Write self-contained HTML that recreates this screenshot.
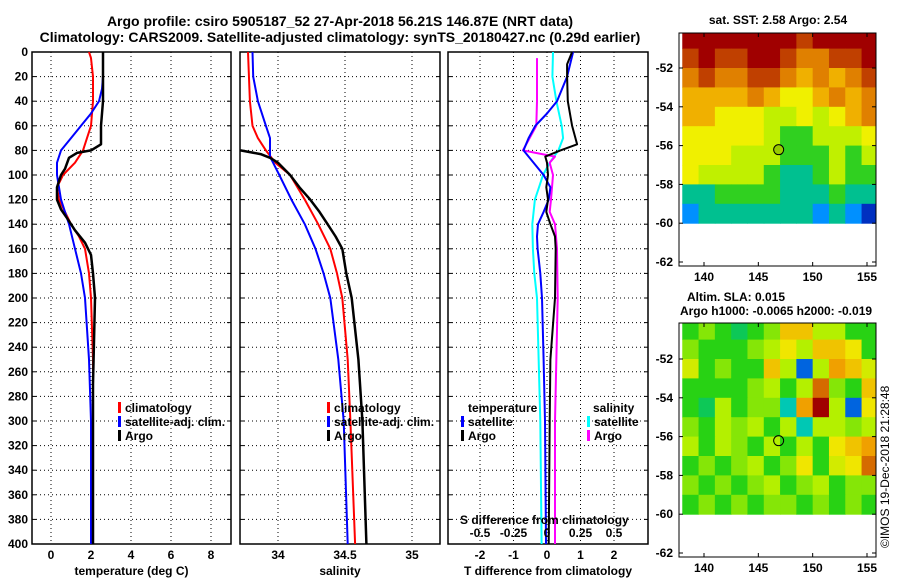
<!DOCTYPE html>
<html><head><meta charset="utf-8">
<style>
body{margin:0;background:#fff;}
svg{display:block;font-family:"Liberation Sans",Arial,sans-serif;font-weight:bold;}
</style></head>
<body>
<svg id="chart" width="900" height="580" viewBox="0 0 900 580" xmlns="http://www.w3.org/2000/svg">
<text x="340" y="26" font-size="14" text-anchor="middle">Argo profile: csiro 5905187_52 27-Apr-2018 56.21S 146.87E (NRT data)</text>
<text x="340" y="42" font-size="14" text-anchor="middle">Climatology: CARS2009. Satellite-adjusted climatology: synTS_20180427.nc (0.29d earlier)</text>
<text x="778" y="24" font-size="12" text-anchor="middle">sat. SST: 2.58 Argo: 2.54</text>
<text x="736" y="301" font-size="12" text-anchor="middle">Altim. SLA: 0.015</text>
<text x="776" y="315" font-size="12" text-anchor="middle">Argo h1000: -0.0065 h2000: -0.019</text>
<text transform="translate(889,548) rotate(-90)" font-size="12" font-weight="normal">©IMOS 19-Dec-2018 21:28:48</text>
<g id="g"></g>
</svg>
<script>
// ---- data ----
const depthTicks=[0,20,40,60,80,100,120,140,160,180,200,220,240,260,280,300,320,340,360,380,400];
const tempTicks=[0,2,4,6,8];
const salTicks=[34,34.5,35];
const salTickLabels=["34","34.5","35"];
const tdiffTicks=[-2,-1,0,1,2];
const sdiffTicks=[-0.5,-0.25,0,0.25,0.5];
const sdiffTickLabels=["-0.5","-0.25","0","0.25","0.5"];

const climTDepth=[0,5,20,40,60,70,80,90,100,110,120,130,140,150,160,180,200,250,300,400];
const climT=[1.9,2.0,2.1,2.1,2.0,1.8,1.6,1.2,0.6,0.3,0.4,0.7,1.0,1.4,1.7,1.9,2.0,2.1,2.1,2.1];
const satTDepth=[0,20,30,40,50,60,70,80,90,100,110,120,130,140,160,180,200,250,300,400];
const satT=[2.6,2.6,2.55,2.4,2.0,1.5,1.0,0.5,0.3,0.3,0.4,0.5,0.7,0.9,1.2,1.5,1.7,1.9,2.0,2.0];
const argoTDepth=[0,20,40,60,75,80,82,86,95,100,110,120,128,135,145,155,165,180,200,270,400];
const argoT=[2.6,2.6,2.6,2.5,2.5,2.0,1.3,0.9,0.7,0.5,0.3,0.3,0.5,0.8,1.2,1.7,2.0,2.1,2.2,2.1,2.1];

const climSDepth=[0,40,60,70,80,90,100,120,140,160,180,200,250,300,400];
const climS=[33.776,33.79,33.81,33.85,33.91,33.98,34.09,34.2,34.3,34.39,34.44,34.48,34.52,34.54,34.575];
const satSDepth=[0,20,40,60,70,85,100,120,140,160,180,200,250,300,400];
const satS=[33.81,33.815,33.85,33.91,33.94,33.94,34.01,34.1,34.2,34.28,34.34,34.39,34.45,34.49,34.52];
const argoSDepth=[80,83,86,90,100,110,120,130,140,150,160,180,200,250,300,400];
const argoS=[33.72,33.87,33.94,34.0,34.09,34.16,34.24,34.31,34.37,34.43,34.48,34.51,34.55,34.6,34.63,34.66];

const satTdDepth=[0,20,40,50,60,70,80,90,100,110,120,130,140,150,160,180,200,250,300,400];
const satTd=[0.78,0.6,0.3,0,-0.35,-0.55,-0.7,-0.4,-0.1,0.1,0.05,-0.1,-0.27,-0.3,-0.28,-0.2,-0.15,-0.1,-0.06,-0.03];
const argoTdDepth=[0,10,20,40,60,75,80,85,90,100,110,120,130,140,150,160,200,250,300,400];
const argoTd=[0.75,0.6,0.6,0.62,0.75,0.9,0.4,-0.05,0.0,0.03,-0.02,0.03,-0.02,0.1,0.24,0.26,0.24,0.1,0.08,0.05];
const satSdDepth=[0,20,40,60,70,80,90,100,110,120,140,160,180,200,300,400];
const satSd=[0.045,0.04,0.07,0.11,0.12,0.085,0.02,-0.03,-0.06,-0.09,-0.11,-0.105,-0.095,-0.075,-0.05,-0.04];
const argoSdDepth=[5,40,60,70,80,85,90,100,120,130,140,160,200,300,400];
const argoSd=[-0.075,-0.075,-0.08,-0.13,-0.18,0.06,0.02,0.045,0.03,0.02,0.06,0.075,0.08,0.06,0.06];

const mapLonTicks=[140,145,150,155];
const mapLatTicks=[-52,-54,-56,-58,-60,-62];
const gridLons=[138,139.5,141,142.5,144,145.5,147,148.5,150,151.5,153,154.5,156];
const gridLats=[-50,-51,-52,-53,-54,-55,-56,-57,-58,-59,-60];
const sstRows=[
[5.5,5.5,5.5,5.5,5.5,5.5,5.5,5.0,5.5,5.5,5.5,5.5],
[5.0,5.5,5.0,5.0,5.5,5.5,5.0,4.5,4.5,5.0,5.0,5.5],
[4.5,5.0,4.5,4.5,5.0,5.0,4.5,4.0,4.5,4.0,4.5,5.0],
[4.0,4.0,4.0,4.0,4.5,4.0,3.5,3.5,4.0,4.5,4.0,4.5],
[4.0,4.0,3.5,3.5,3.5,3.0,3.0,3.5,3.0,3.5,4.0,4.5],
[3.5,3.5,3.5,3.5,3.5,3.0,2.5,2.5,3.0,3.0,3.0,3.5],
[3.5,3.5,3.5,3.0,3.0,3.0,2.5,2.5,2.5,3.0,2.5,3.0],
[3.5,3.0,3.0,3.0,3.0,2.5,2.0,2.0,2.5,3.0,2.5,2.5],
[2.0,2.0,2.5,2.5,2.5,2.5,2.0,2.0,2.0,2.5,2.0,2.0],
[1.5,2.0,2.0,2.0,2.0,2.0,2.0,2.0,1.5,2.0,1.5,1.0]];
const slaRows=[
[0,0.2,0,-0.2,0,0.2,0.6,0.6,0.3,0.3,0,0],
[0.2,0,0,0,0.2,0.3,0.5,0.3,0.6,0.6,0.5,0],
[0.4,0,0.2,0,0,0.6,0.3,-0.8,0.3,0.7,0.6,0.4],
[0,0,0,0,0.2,0.3,0,0.3,0.8,0.2,0,0.6],
[0,-0.2,0.3,0,0.2,0.2,-0.4,0.7,1.0,0.3,-0.8,0.5],
[0.2,0,0.3,0.2,0.3,0,0.3,-0.4,0.3,0.3,0.2,0.3],
[0.3,0,0.3,0.2,0,0.3,0,0.3,0,0.5,0.6,0.7],
[0,0.2,0,0.2,0.3,0,0.2,0.5,0,0.4,0.5,0.8],
[0.2,0,0.2,0,0.2,0.3,0,0.2,0.3,0,0.2,0.2],
[0,0.2,0,0.2,0,0.2,0.2,0,0.2,0,0.2,0]];
const argoLon=146.87, argoLat=-56.21;

// ---- helpers ----
const NS="http://www.w3.org/2000/svg";
const G=document.getElementById('g');
function el(t,a,p){const e=document.createElementNS(NS,t);for(const k in a)e.setAttribute(k,a[k]);(p||G).appendChild(e);return e;}
function lin(d0,d1,r0,r1){return v=>r0+(v-d0)*(r1-r0)/(d1-d0);}
const yD=lin(0,400,52,544);
const PT={x0:32,x1:231}, PS={x0:240,x1:440}, PD={x0:448,x1:648};
const xT=lin(0,2,51,91), xS=lin(34,34.5,278,345), xTd=lin(0,1,547,580.5), xSd=lin(0,0.25,547,580.5);

function panelFrame(P,name,xticks,xf,labels,xlabel,showDepth){
  const grp=el('g',{});
  
  
  depthTicks.forEach(d=>{
    if(d>0&&d<400){const l=el('line',{x1:P.x0,x2:P.x1,y1:yD(d),y2:yD(d),stroke:'#000','stroke-width':1,'stroke-dasharray':'1,3'},grp);
    }
    if(showDepth){const t=el('text',{x:P.x0-4,y:yD(d)+4,'font-size':12,'text-anchor':'end'},grp);t.textContent=d;
    }
    el('line',{x1:P.x0,x2:P.x0+4,y1:yD(d),y2:yD(d),stroke:'#000'},grp);
    el('line',{x1:P.x1,x2:P.x1-4,y1:yD(d),y2:yD(d),stroke:'#000'},grp);
  });
  xticks.forEach((v,i)=>{
    const x=xf(v);
    const l=el('line',{x1:x,x2:x,y1:52,y2:544,stroke:'#000','stroke-dasharray':'1,3'},grp);
    
    const t=el('text',{x:x,y:559,'font-size':12,'text-anchor':'middle'},grp);
    t.textContent=labels?labels[i]:v;
    
  });
  const r=el('rect',{x:P.x0,y:52,width:P.x1-P.x0,height:492,fill:'none',stroke:'#000','stroke-width':1.5},grp);
  
  const xl=el('text',{x:(P.x0+P.x1)/2,y:575,'font-size':12,'text-anchor':'middle'},grp);
  xl.textContent=xlabel;
  
}
function line(xs,ds,xf,color,w,name){
  const pts=xs.map((v,i)=>xf(v).toFixed(1)+','+yD(ds[i]).toFixed(1)).join(' ');
  const p=el('polyline',{points:pts,fill:'none',stroke:color,'stroke-width':w,'stroke-linejoin':'round'});
  
  
}
function txt(x,y,s,name,anchor){const t=el('text',{x:x,y:y,'font-size':12,'text-anchor':anchor||'start'});t.textContent=s;
  
  return t;}
function legMark(x,y,c){const r=el('rect',{x:x,y:y-10,width:3,height:11,fill:c});
  
  }

// temperature panel
panelFrame(PT,'temperature-panel',tempTicks,xT,null,'temperature (deg C)',true);
line(climT,climTDepth,xT,'#f00',2,'climatology-temperature-line');
line(satT,satTDepth,xT,'#00f',2,'satellite-temperature-line');
line(argoT,argoTDepth,xT,'#000',2.5,'argo-temperature-line');
legMark(118,412,'#f00');txt(125,412,'climatology','legend-climatology');
legMark(118,426,'#00f');txt(125,426,'satellite-adj. clim.','legend-satellite');
legMark(118,440,'#000');txt(125,440,'Argo','legend-argo');

// salinity panel
panelFrame(PS,'salinity-panel',salTicks,xS,salTickLabels,'salinity',false);
line(climS,climSDepth,xS,'#f00',2,'climatology-salinity-line');
line(satS,satSDepth,xS,'#00f',2,'satellite-salinity-line');
line(argoS,argoSDepth,xS,'#000',2.5,'argo-salinity-line');
legMark(327,412,'#f00');txt(334,412,'climatology','legend-climatology');
legMark(327,426,'#00f');txt(334,426,'satellite-adj. clim.','legend-satellite');
legMark(327,440,'#000');txt(334,440,'Argo','legend-argo');

// difference panel
panelFrame(PD,'difference-panel',tdiffTicks,xTd,null,'T difference from climatology',false);
line(satSd,satSdDepth,xSd,'#0ff',2,'satellite-salinity-diff-line');
line(argoSd,argoSdDepth,xSd,'#f0f',2,'argo-salinity-diff-line');
line(satTd,satTdDepth,xTd,'#00f',2,'satellite-temperature-diff-line');
line(argoTd,argoTdDepth,xTd,'#000',2,'argo-temperature-diff-line');
txt(468,412,'temperature','legend-temperature-heading');
legMark(461,426,'#00f');txt(468,426,'satellite','legend-t-satellite');
legMark(461,440,'#000');txt(468,440,'Argo','legend-t-argo');
txt(593,412,'salinity','legend-salinity-heading');
legMark(587,426,'#0ff');txt(594,426,'satellite','legend-s-satellite');
legMark(587,440,'#f0f');txt(594,440,'Argo','legend-s-argo');
txt(460,524,'S difference from climatology','s-axis-title');
sdiffTicks.forEach((v,i)=>{txt(xSd(v),537,sdiffTickLabels[i],'s-tick-label','middle');});

// maps
const xLon=lin(140,155,704,867);
function sstColor(v){
  const stops=[[1.0,[0,48,192]],[1.5,[0,144,255]],[2.0,[0,192,144]],[2.5,[48,208,32]],[3.0,[192,240,0]],[3.5,[240,240,0]],[4.0,[240,176,0]],[4.5,[224,128,0]],[5.0,[192,64,0]],[5.5,[160,0,0]]];
  return interp(stops,v);
}
function slaColor(v){
  const stops=[[-1,[0,0,160]],[-0.7,[0,150,255]],[-0.4,[0,200,180]],[-0.1,[20,200,40]],[0,[40,210,20]],[0.3,[180,240,0]],[0.5,[240,230,0]],[0.7,[240,160,0]],[1.0,[160,0,0]]];
  return interp(stops,v);
}
function interp(stops,v){
  if(v<=stops[0][0])return 'rgb('+stops[0][1]+')';
  for(let i=1;i<stops.length;i++){if(v<=stops[i][0]){const a=stops[i-1],b=stops[i],t=(v-a[0])/(b[0]-a[0]);
    return 'rgb('+a[1].map((c,k)=>Math.round(c+t*(b[1][k]-c))).join(',')+')';}}
  return 'rgb('+stops[stops.length-1][1]+')';
}
function drawMap(top,lat52y,rows,colorFn,name,markerFill){
  const yLat=lin(-52,-62,lat52y,lat52y+194);
  const grp=el('g',{});
  
  
  const X0=679,X1=876;
  const cp=el('clipPath',{id:name+'-clip'},grp);el('rect',{x:X0,y:top,width:X1-X0,height:600},cp);
  const cg=el('g',{'clip-path':'url(#'+name+'-clip)'},grp);
  rows.forEach((row,r)=>row.forEach((v,c)=>{
    const x0=xLon(gridLons[c]),x1=xLon(gridLons[c+1]);
    const y0=Math.max(top,yLat(gridLats[r])),y1=yLat(gridLats[r+1]);
    const cell=el('rect',{x:x0,y:y0,width:x1-x0+0.5,height:y1-y0+0.5,fill:colorFn(v)},cg);
    
    
  }));
  const bottom=yLat(-62)+4;
  const fr=el('rect',{x:X0,y:top,width:X1-X0,height:bottom-top,fill:'none',stroke:'#000'},grp);
  
  mapLatTicks.forEach(l=>{
    const y=yLat(l);el('line',{x1:X0,x2:X0+4,y1:y,y2:y,stroke:'#000'},grp);el('line',{x1:X1,x2:X1-4,y1:y,y2:y,stroke:'#000'},grp);
    const t=el('text',{x:X0-6,y:y+4,'font-size':12,'text-anchor':'end'},grp);t.textContent=l;
    
  });
  mapLonTicks.forEach(l=>{
    const x=xLon(l);el('line',{x1:x,x2:x,y1:bottom,y2:bottom-4,stroke:'#000'},grp);el('line',{x1:x,x2:x,y1:top,y2:top+4,stroke:'#000'},grp);
    const t=el('text',{x:x,y:bottom+15,'font-size':12,'text-anchor':'middle'},grp);t.textContent=l;
    
  });
  const m=el('circle',{cx:xLon(argoLon),cy:yLat(argoLat),r:5,fill:markerFill,stroke:'#000'},grp);
  
  
}
drawMap(33,68,sstRows,sstColor,'sst-map','#9c0');
drawMap(323,359,slaRows,slaColor,'sla-map','none');
</script>
</body></html>
